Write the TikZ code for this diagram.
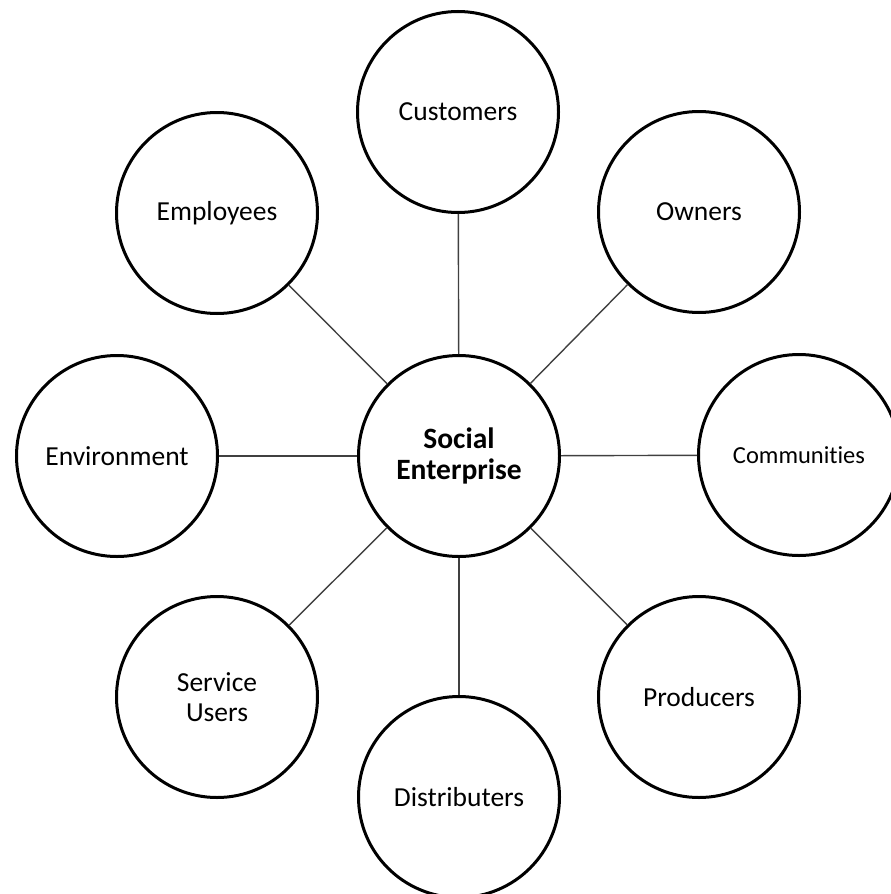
\documentclass[tikz,border=0pt]{standalone}
\usepackage{fontspec}
\setmainfont[Ligatures=NoCommon]{Carlito}
\usepackage{tikz}
\tikzset{
    party/.style={circle, draw=black, line width=3pt, fill=white, minimum size=201pt,
        inner sep=0pt, align=center, font=\fontsize{27.5}{30}\selectfont},
    hub/.style={party, font=\fontsize{29.5}{31}\selectfont\bfseries},
    link/.style={draw=black!75, line width=1.4pt},
}

\begin{document}
\begin{tikzpicture}[x=1pt, y=-1pt]
\useasboundingbox (0,0) rectangle (891,894);
\node[hub] (soc) at (459,456) {Social\\Enterprise};
\node[party] (cust) at (458,112) {Customers};
\node[party] (own) at (699,212) {Owners};
\node[party, font=\fontsize{24.5}{28}\selectfont] (comm) at (799,455) {Communities};
\node[party] (prod) at (699,697) {Producers};
\node[party] (dist) at (459,797) {Distributers};
\node[party] (serv) at (217,697) {Service\\Users};
\node[party] (env) at (117,456) {Environment};
\node[party] (emp) at (217,213) {Employees};

\foreach \p in {cust,own,comm,prod,dist,serv,env,emp}
    \draw[link] (soc) -- (\p);
\end{tikzpicture}
\end{document}
